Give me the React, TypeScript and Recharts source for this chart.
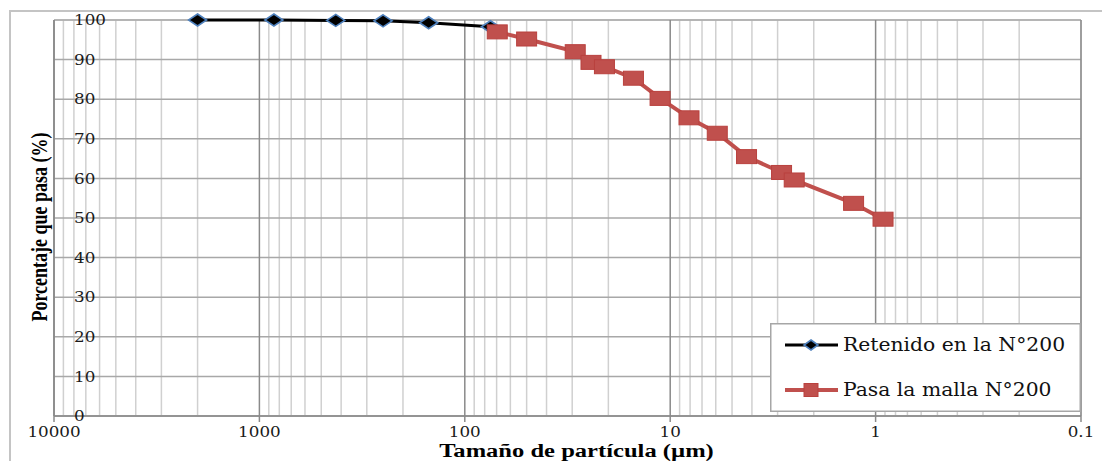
import React from 'react';
import { ScatterChart, Scatter, XAxis, YAxis, CartesianGrid, Legend, Label } from 'recharts';

// Particle size distribution: sieve analysis (retained on N°200) and hydrometer (passing N°200)
const retenidoSize = [2000, 850, 425, 250, 150, 75];
const retenidoPct = [100, 100, 99.9, 99.8, 99.3, 98.3];

const pasaSize = [69.5, 50, 29, 24.3, 20.9, 15.1, 11.2, 8.1, 5.9, 4.25, 2.87, 2.49, 1.28, 0.92];
const pasaPct = [97.0, 95.2, 92.0, 89.3, 88.2, 85.3, 80.2, 75.3, 71.4, 65.5, 61.5, 59.6, 53.7, 49.7];

const seriesNames = ['Retenido en la N°200', 'Pasa la malla N°200'];

const xTicks = [10000, 1000, 100, 10, 1, 0.1];
const yTicks = [0, 10, 20, 30, 40, 50, 60, 70, 80, 90, 100];
const minorMultipliers = [2, 3, 4, 5, 6, 7, 8, 9];
const yMinorStep = [2, 4, 6, 8];

const retenidoData = retenidoSize.map((size, i) => ({ size, pct: retenidoPct[i] }));
const pasaData = pasaSize.map((size, i) => ({ size, pct: pasaPct[i] }));

const minorX = xTicks
  .filter((d) => d < 10000)
  .flatMap((d) => minorMultipliers.map((m) => Number((d * m).toPrecision(3))));
const minorY = yTicks.filter((t) => t < 100).flatMap((t) => yMinorStep.map((s) => t + s));

const TIMES = "Liberation Serif";
const DEJAVU = "DejaVu Serif";
const SX = 1.26; // horizontal stretch of the bold titles
const SR = 1.08; // horizontal stretch of the regular lettering
const BLACK = '#000000';
const BLUE = '#4f81bd';
const RED = '#c0504d';

const Diamond = ({ cx, cy, w = 9, h = 6 }: any) => (
  <polygon
    points={`${cx},${cy - h} ${cx + w},${cy} ${cx},${cy + h} ${cx - w},${cy}`}
    fill={BLACK}
    stroke={BLUE}
    strokeWidth={1.6}
  />
);

const Square = ({ cx, cy, w = 20, h = 14 }: any) => (
  <rect x={cx - w / 2} y={cy - h / 2} width={w} height={h} fill={RED} stroke="#b9413e" strokeWidth={1} />
);

const XTick = ({ x, y, payload }: any) => (
  <g transform={`translate(${x},${y + 10}) scale(${SR},1)`}>
    <text textAnchor="middle" dominantBaseline="central" fontFamily={DEJAVU} fontSize={15.5} fill="#1a1a1a">
      {payload.value}
    </text>
  </g>
);

const YTick = ({ x, y, payload }: any) => (
  <g transform={`translate(${x + 20},${y}) scale(${SR},1)`}>
    <text textAnchor="start" dominantBaseline="central" fontFamily={DEJAVU} fontSize={15.5} fill="#1a1a1a">
      {payload.value}
    </text>
  </g>
);

const XTitle = ({ viewBox }: any) => {
  const cx = viewBox.x + viewBox.width / 2 + 9;
  return (
    <g transform={`translate(${cx},${viewBox.y + 34}) scale(${SX},1)`}>
      <text textAnchor="middle" dominantBaseline="central" fontFamily={TIMES} fontSize={19.5}
        fontWeight="bold" fill="#000">
        Tamaño de partícula (µm)
      </text>
    </g>
  );
};

const YTitle = ({ viewBox }: any) => {
  const cy = viewBox.y + viewBox.height / 2 + 9;
  return (
    <g transform={`translate(39,${cy}) rotate(-90) scale(1,${SX})`}>
      <text textAnchor="middle" dominantBaseline="central" fontFamily={TIMES} fontSize={18}
        fontWeight="bold" fill="#000">
        Porcentaje que pasa (%)
      </text>
    </g>
  );
};

const LegendBox = () => (
  <svg width={311} height={89} style={{ display: 'block' }}>
    <rect x={0.75} y={0.75} width={309.5} height={87.5} fill="#fff" stroke="#a6a6a6" strokeWidth={1.5} />
    <line x1={15} x2={68} y1={22} y2={22} stroke={BLACK} strokeWidth={3} />
    <Diamond cx={41} cy={22} w={7} h={5} />
    <g transform={`translate(73,22) scale(1.07,1)`}>
      <text dominantBaseline="central" fontFamily={DEJAVU} fontSize={19} fill="#111">{seriesNames[0]}</text>
    </g>
    <line x1={15} x2={68} y1={67} y2={67} stroke={RED} strokeWidth={4} />
    <Square cx={41} cy={67} w={14} h={13} />
    <g transform={`translate(73,67) scale(1.07,1)`}>
      <text dominantBaseline="central" fontFamily={DEJAVU} fontSize={19} fill="#111">{seriesNames[1]}</text>
    </g>
  </svg>
);

export default function App() {
  return (
    <div style={{ position: 'absolute', left: 0, top: 0, width: 1102, height: 461, overflow: 'hidden', background: '#fff' }}>
      <div style={{ position: 'absolute', left: 9, top: 10, width: 1200, height: 600, border: '2px solid #c4c4c4' }} />
      <ScatterChart width={1102} height={461} margin={{ top: 20, right: 21, bottom: 0, left: 0 }}>
        {/* minor grid from hidden helper axes */}
        <CartesianGrid xAxisId="minor" yAxisId="minor" stroke="#d0d0d0" strokeWidth={1.5} />
        <CartesianGrid stroke="#a8a8a8" strokeWidth={1.5} vertical={false} />
        <CartesianGrid stroke="#8a8a8a" strokeWidth={1.5} horizontal={false} />
        <XAxis
          xAxisId="minor"
          hide
          type="number"
          dataKey="size"
          scale="log"
          domain={[0.1, 10000]}
          reversed
          allowDataOverflow
          ticks={minorX}
          interval={0}
        />
        <YAxis
          yAxisId="minor"
          hide
          type="number"
          dataKey="pct"
          domain={[0, 100]}
          ticks={minorY}
          interval={0}
        />
        <XAxis
          type="number"
          dataKey="size"
          scale="log"
          domain={[0.1, 10000]}
          reversed
          allowDataOverflow
          ticks={xTicks}
          interval={0}
          height={45}
          tick={<XTick />}
          tickSize={6}
          tickMargin={0}
          stroke="#8a8a8a"
          strokeWidth={1.5}
        >
          <Label content={<XTitle />} />
        </XAxis>
        <YAxis
          type="number"
          dataKey="pct"
          domain={[0, 100]}
          ticks={yTicks}
          interval={0}
          width={54}
          tick={<YTick />}
          tickSize={0}
          tickMargin={0}
          tickLine={false}
          stroke="#8a8a8a"
          strokeWidth={1.5}
        >
          <Label content={<YTitle />} />
        </YAxis>
        <Legend
          layout="vertical"
          align="center"
          verticalAlign="middle"
          content={<LegendBox />}
          wrapperStyle={{ left: 770, top: 323, width: 311, height: 89 }}
        />
        <Scatter
          name={seriesNames[0]}
          data={retenidoData}
          fill={BLACK}
          line={{ stroke: BLACK, strokeWidth: 3 }}
          shape={(p: any) => <Diamond cx={p.cx} cy={p.cy} />}
          isAnimationActive={false}
        />
        <Scatter
          name={seriesNames[1]}
          data={pasaData}
          fill={RED}
          line={{ stroke: RED, strokeWidth: 4 }}
          shape={(p: any) => <Square cx={p.cx} cy={p.cy} />}
          isAnimationActive={false}
        />
      </ScatterChart>
    </div>
  );
}
